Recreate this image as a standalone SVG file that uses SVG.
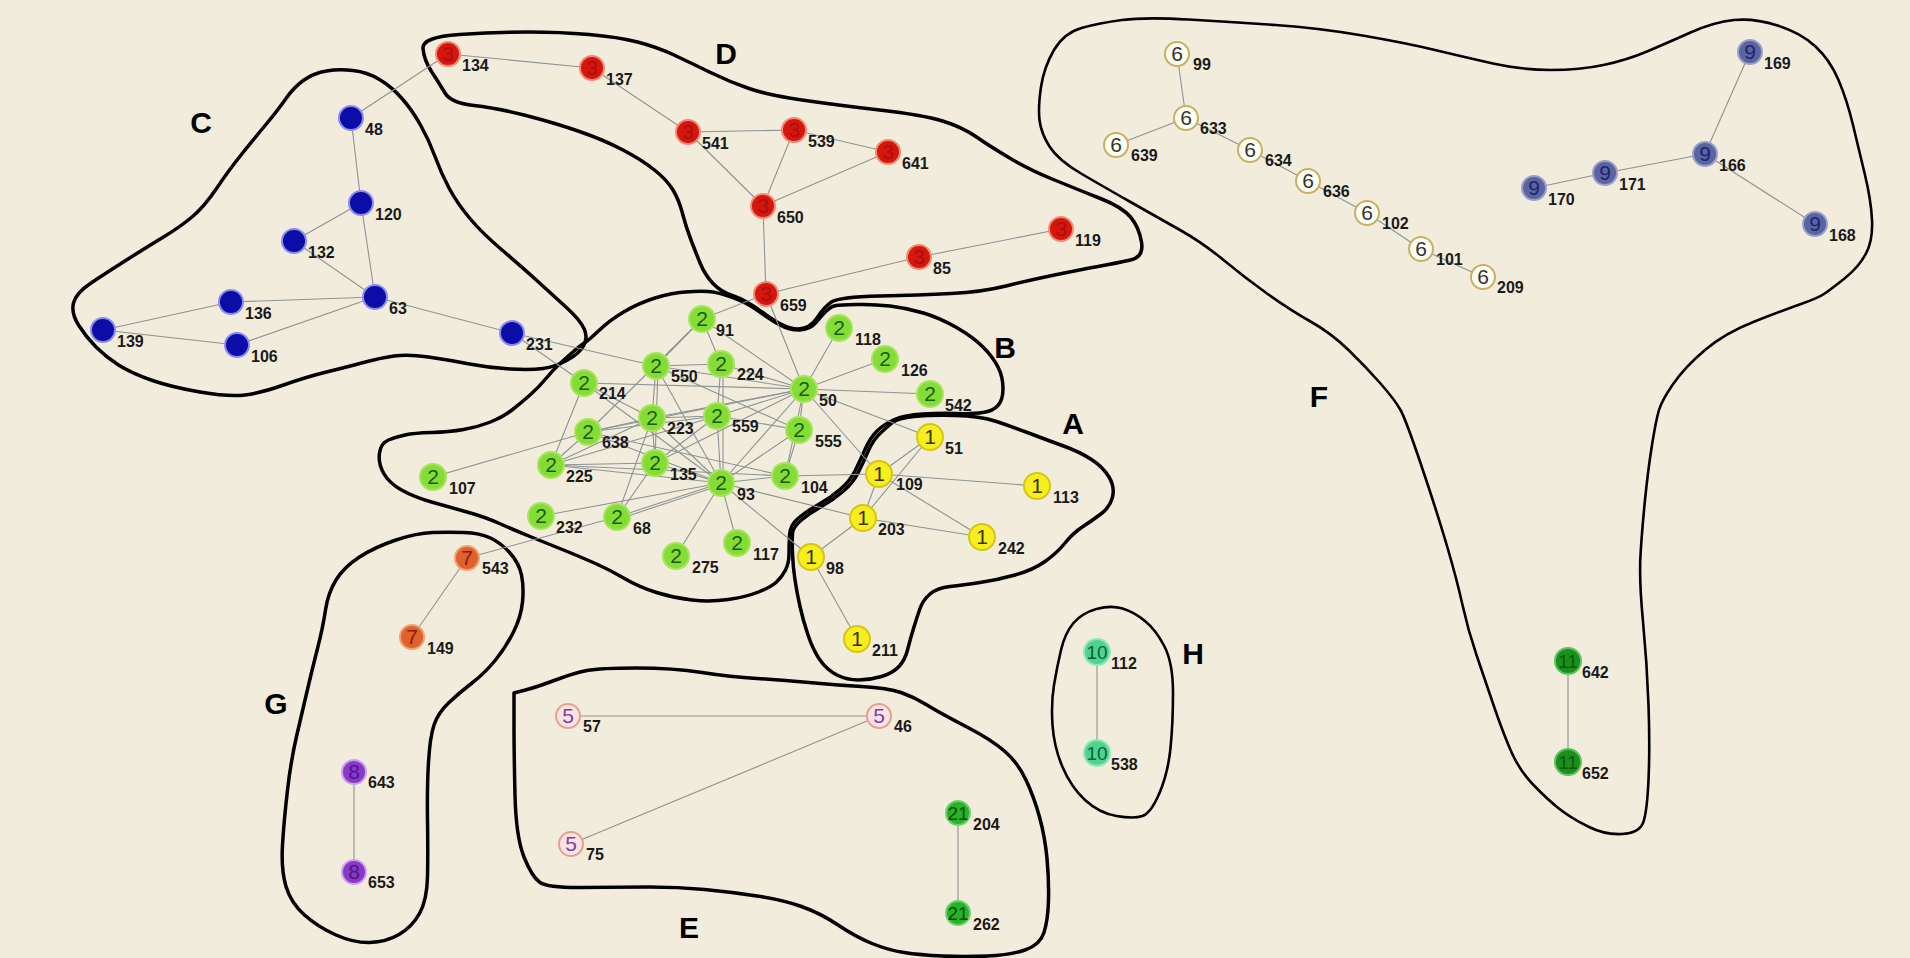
<svg xmlns="http://www.w3.org/2000/svg" width="1910" height="958" viewBox="0 0 1910 958">
<style>
.bg{fill:#f2ecdd}
.hull{fill:none;stroke:#000;stroke-width:3.5;stroke-linejoin:round}
.hull.thin{stroke-width:2.6}
.e line{stroke:#8c9494;stroke-width:1.1}
circle{stroke-width:2}
.d{font-family:"Liberation Sans",Arial,sans-serif;font-size:21px;text-anchor:middle}
.lb{font-family:"Liberation Sans",Arial,sans-serif;font-size:16px;font-weight:bold;fill:#1a1a1a}
.let{font-family:"Liberation Sans",Arial,sans-serif;font-size:30px;font-weight:bold;fill:#000;text-anchor:middle}
.c1 circle{fill:#f6ee1e;stroke:#d6c612}.c1 .d{fill:#3a3000}
.c2 circle{fill:#84dd34;stroke:#a8e45c}.c2 .d{fill:#1c5a12}
.c3 circle{fill:#d6150d;stroke:#f08a72}.c3 .d{fill:#a81010}
.c4 circle{fill:#0c0ca6;stroke:#8a8af0}
.c5 circle{fill:#fbe4e6;stroke:#e6a08c}.c5 .d{fill:#8040a0}
.c6 circle{fill:#fffef4;stroke:#c8b060}.c6 .d{fill:#333}
.c7 circle{fill:#e0622a;stroke:#f0a272}.c7 .d{fill:#8a1a10}
.c8 circle{fill:#8a38c8;stroke:#c8a0ee}.c8 .d{fill:#4a1a8a}
.c9 circle{fill:#5a64a0;stroke:#9aa0c8}.c9 .d{fill:#1c2470}
.c10 circle{fill:#4fd48e;stroke:#90e8b8}.c10 .d{fill:#0a6040;font-size:19px}
.c11 circle{fill:#1a901a;stroke:#60c060}.c11 .d{fill:#0c5c0c;font-size:19px}
.c21 circle{fill:#26b426;stroke:#70d070}.c21 .d{fill:#0a4a0a;font-size:19px}
</style>
<rect class="bg" x="0" y="0" width="1910" height="958"/>

<g id="hulls">
<path id="hullC" class="hull" d="M326.5,71 Q339,69 353,70.5 Q367,72 379.5,79.5 Q392,87 402,98.5 Q412,110 420.5,125 Q429,140 435,156.5 Q441,173 449,188 Q457,203 469.5,218 Q482,233 502,250 Q522,267 538.5,282 Q555,297 567.5,308.5 Q580,320 584,328.5 Q588,337 584,345 Q580,353 567.5,360 Q555,367 543,368.5 Q531,370 510.5,369 Q490,368 469.5,364 Q449,360 428.5,357 Q408,354 394,356 Q380,358 363.5,362.5 Q347,367 326.5,372 Q306,377 283.5,385 Q261,393 245,395 Q229,397 200,392 Q171,387 151,380 Q131,373 118.5,365 Q106,357 96,347 Q86,337 78.5,325 Q71,313 73.5,303 Q76,293 91,283 Q106,273 126.5,260 Q147,247 163.5,237 Q180,227 192,217 Q204,207 216.5,188.5 Q229,170 241,155 Q253,140 265.5,125 Q278,110 286,98.5 Q294,87 304,80 Q314,73 326.5,71 Z"/>
<path id="hullD" class="hull" d="M423,48.5 Q422,37 459.5,34.5 Q497,32 528.5,32 Q560,32 589,34.5 Q618,37 637.5,42 Q657,47 674,55 Q691,63 710.5,72.5 Q730,82 749,88.5 Q768,95 802,100 Q836,105 879.5,110 Q923,115 942.5,121 Q962,127 976.5,137 Q991,147 1010.5,158.5 Q1030,170 1054.5,180 Q1079,190 1100.5,198.5 Q1122,207 1130.5,217 Q1139,227 1141.5,242 Q1144,257 1130.5,260 Q1117,263 1098,266.5 Q1079,270 1054.5,275 Q1030,280 1006,286 Q982,292 951,293.5 Q920,295 879.5,296 Q839,297 831.5,302 Q824,307 817,318 Q810,329 797.5,329 Q785,329 765.5,314.5 Q746,300 733.5,296 Q721,292 713,283.5 Q705,275 700.5,264 Q696,253 691,240 Q686,227 682.5,213.5 Q679,200 673,190 Q667,180 654.5,170 Q642,160 623,150 Q604,140 579.5,131.5 Q555,123 526,115.5 Q497,108 474,105.5 Q451,103 445,93 Q439,83 431.5,71.5 Q424,60 423,48.5 Z"/>
<path id="hullB" class="hull" d="M585,342.5 Q589,340 599.5,330 Q610,320 624.5,311.5 Q639,303 655,298 Q671,293 685,292 Q699,291 708,291.5 Q717,292 731.5,297 Q746,302 758.5,311 Q771,320 780,325 Q789,330 799.5,330 Q810,330 816.5,322 Q823,314 827.5,310 Q832,306 836,305.5 Q840,305 856.5,304.5 Q873,304 890,306 Q907,308 923.5,313 Q940,318 956.5,327.5 Q973,337 983,347 Q993,357 998,367 Q1003,377 1003,388.5 Q1003,400 998,405.5 Q993,411 983,412.5 Q973,414 956.5,413.5 Q940,413 922.5,414 Q905,415 894.5,419.5 Q884,424 877,431 Q870,438 865,449.5 Q860,461 855,471 Q850,481 840,489.5 Q830,498 818.5,504.5 Q807,511 798.5,518 Q790,525 789.5,535 Q789,545 789,554 Q789,563 785.5,570 Q782,577 776.5,582 Q771,587 758.5,592 Q746,597 728,599.5 Q710,602 692,600 Q674,598 656.5,592.5 Q639,587 624.5,578.5 Q610,570 595.5,563.5 Q581,557 563.5,550 Q546,543 530,536.5 Q514,530 499.5,523.5 Q485,517 467,512 Q449,507 431.5,502 Q414,497 401.5,490 Q389,483 383.5,473 Q378,463 379.5,453 Q381,443 388.5,440 Q396,437 405,435 Q414,433 431.5,432.5 Q449,432 463.5,429.5 Q478,427 490.5,422 Q503,417 512,410 Q521,403 530,395 Q539,387 546,378.5 Q553,370 560,363.5 Q567,357 574,351 Q581,345 585,342.5 Z"/>
<path id="hullA" class="hull" d="M892.5,422.5 Q898,418 914,416.5 Q930,415 955,415.5 Q980,416 996.5,421.5 Q1013,427 1030,433.5 Q1047,440 1063.5,446 Q1080,452 1091.5,459.5 Q1103,467 1109,477 Q1115,487 1112.5,497 Q1110,507 1101.5,513.5 Q1093,520 1083,526.5 Q1073,533 1065,543 Q1057,553 1045,561.5 Q1033,570 1015,575 Q997,580 980,582.5 Q963,585 950,586.5 Q937,588 930,594 Q923,600 920,608.5 Q917,617 913.5,628.5 Q910,640 907.5,650 Q905,660 899,666.5 Q893,673 881.5,676.5 Q870,680 858.5,680 Q847,680 837,675 Q827,670 820,660 Q813,650 808,635 Q803,620 800,606.5 Q797,593 795,580 Q793,567 792.5,553.5 Q792,540 792.5,533.5 Q793,527 801.5,520 Q810,513 821.5,506.5 Q833,500 843,491.5 Q853,483 858,473 Q863,463 868,451.5 Q873,440 880,433.5 Q887,427 892.5,422.5 Z"/>
<path id="hullG" class="hull" d="M432.5,532.5 Q448,532 464,532.5 Q480,533 490.5,538 Q501,543 510,553 Q519,563 521.5,575 Q524,587 522.5,602 Q521,617 513.5,632 Q506,647 495.5,660 Q485,673 472,683 Q459,693 448.5,703 Q438,713 434,725 Q430,737 428.5,762 Q427,787 427.5,820 Q428,853 427.5,876.5 Q427,900 419.5,913.5 Q412,927 399,934.5 Q386,942 370,942.5 Q354,943 336,935 Q318,927 304.5,915 Q291,903 286,886.5 Q281,870 282.5,845 Q284,820 287.5,790 Q291,760 296.5,736.5 Q302,713 307,691.5 Q312,670 317.5,648.5 Q323,627 325.5,610 Q328,593 336,580 Q344,567 359.5,557 Q375,547 396,540 Q417,533 432.5,532.5 Z"/>
<path id="hullE" class="hull" d="M514,693 L525.5,690 Q537,687 555.5,680 Q574,673 587,670.5 Q600,668 636.5,668 Q673,668 702,672.5 Q731,677 757,678.5 Q783,680 809,682.5 Q835,685 861.5,686.5 Q888,688 901,692.5 Q914,697 927,705 Q940,713 966,726.5 Q992,740 1005,751.5 Q1018,763 1026,780 Q1034,797 1039.5,817 Q1045,837 1047,858.5 Q1049,880 1048.5,900 Q1048,920 1044,932.5 Q1040,945 1025,950 Q1010,955 987.5,956 Q965,957 942.5,956 Q920,955 904,952.5 Q888,950 872,943.5 Q856,937 838,925 Q820,913 801.5,906.5 Q783,900 757,896 Q731,892 704.5,889.5 Q678,887 649.5,887 Q621,887 584.5,887.5 Q548,888 540,882.5 Q532,877 524,857 Q516,837 515,795 Q514,753 514,723 Z"/>
<path id="hullH" class="hull thin" d="M1096.5,609 Q1111,605 1122.5,608.5 Q1134,612 1145,621 Q1156,630 1164.5,646.5 Q1173,663 1173,693 Q1173,723 1170.5,748 Q1168,773 1159.5,793 Q1151,813 1142.5,816 Q1134,819 1116.5,816 Q1099,813 1085,800 Q1071,787 1062.5,767 Q1054,747 1052.5,725 Q1051,703 1054,685 Q1057,667 1061,650 Q1065,633 1073.5,623 Q1082,613 1096.5,609 Z"/>
<path id="hullF" class="hull thin" d="M1054,50 Q1064,33 1081.5,28 Q1099,23 1122,20 Q1145,17 1188.5,19.5 Q1232,22 1275.5,25 Q1319,28 1362.5,35.5 Q1406,43 1435,50 Q1464,57 1493,63.5 Q1522,70 1551,70 Q1580,70 1603.5,65 Q1627,60 1647,51.5 Q1667,43 1690.5,32.5 Q1714,22 1734,20 Q1754,18 1777.5,25.5 Q1801,33 1815.5,46.5 Q1830,60 1838.5,80 Q1847,100 1853,125 Q1859,150 1865,175 Q1871,200 1872,220 Q1873,240 1866,253.5 Q1859,267 1844.5,278.5 Q1830,290 1824,294 Q1818,298 1801,304 Q1784,310 1754.5,321.5 Q1725,333 1705,350 Q1685,367 1673.5,383.5 Q1662,400 1659,410 Q1656,420 1652,445 Q1648,470 1645,500 Q1642,530 1640.5,555 Q1639,580 1643,621.5 Q1647,663 1648.5,705 Q1650,747 1648.5,780 Q1647,813 1643,823 Q1639,833 1622,834 Q1605,835 1588,826.5 Q1571,818 1559.5,809 Q1548,800 1533.5,785 Q1519,770 1510.5,750 Q1502,730 1493.5,705 Q1485,680 1476.5,655 Q1468,630 1462.5,605 Q1457,580 1447,546 Q1437,512 1421.5,466 Q1406,420 1400.5,410 Q1395,400 1380.5,383.5 Q1366,367 1348.5,350 Q1331,333 1310.5,321.5 Q1290,310 1267,293.5 Q1244,277 1223.5,260 Q1203,243 1180,230 Q1157,217 1130.5,202 Q1104,187 1081,173.5 Q1058,160 1049.5,146.5 Q1041,133 1039.5,120 Q1038,107 1041,87 Q1044,67 1054,50 Z"/>
</g>

<g id="connectors" class="e">
<line x1="351" y1="118" x2="448" y2="54"/>
<line x1="351" y1="118" x2="361" y2="203"/>
<line x1="361" y1="203" x2="294" y2="241"/>
<line x1="361" y1="203" x2="375" y2="297"/>
<line x1="294" y1="241" x2="375" y2="297"/>
<line x1="375" y1="297" x2="231" y2="302"/>
<line x1="375" y1="297" x2="237" y2="345"/>
<line x1="375" y1="297" x2="512" y2="333"/>
<line x1="231" y1="302" x2="103" y2="330"/>
<line x1="103" y1="330" x2="237" y2="345"/>
<line x1="512" y1="333" x2="656" y2="366"/>
<line x1="512" y1="333" x2="584" y2="383"/>
<line x1="448" y1="54" x2="592" y2="68"/>
<line x1="592" y1="68" x2="688" y2="132"/>
<line x1="688" y1="132" x2="794" y2="130"/>
<line x1="688" y1="132" x2="763" y2="206"/>
<line x1="794" y1="130" x2="763" y2="206"/>
<line x1="794" y1="130" x2="888" y2="152"/>
<line x1="888" y1="152" x2="763" y2="206"/>
<line x1="763" y1="206" x2="766" y2="294"/>
<line x1="766" y1="294" x2="919" y2="257"/>
<line x1="919" y1="257" x2="1061" y2="229"/>
<line x1="766" y1="294" x2="702" y2="319"/>
<line x1="766" y1="294" x2="804" y2="389"/>
<line x1="702" y1="319" x2="656" y2="366"/>
<line x1="702" y1="319" x2="721" y2="364"/>
<line x1="702" y1="319" x2="804" y2="389"/>
<line x1="702" y1="319" x2="588" y2="432"/>
<line x1="656" y1="366" x2="721" y2="364"/>
<line x1="656" y1="366" x2="804" y2="389"/>
<line x1="656" y1="366" x2="652" y2="418"/>
<line x1="658" y1="366" x2="655" y2="463"/>
<line x1="656" y1="366" x2="721" y2="483"/>
<line x1="656" y1="366" x2="799" y2="430"/>
<line x1="721" y1="364" x2="804" y2="389"/>
<line x1="721" y1="364" x2="717" y2="416"/>
<line x1="723" y1="364" x2="723" y2="483"/>
<line x1="584" y1="383" x2="804" y2="389"/>
<line x1="584" y1="383" x2="652" y2="418"/>
<line x1="584" y1="383" x2="721" y2="483"/>
<line x1="584" y1="383" x2="551" y2="465"/>
<line x1="652" y1="418" x2="717" y2="416"/>
<line x1="652" y1="418" x2="804" y2="389"/>
<line x1="652" y1="418" x2="655" y2="463"/>
<line x1="652" y1="418" x2="551" y2="465"/>
<line x1="652" y1="418" x2="588" y2="432"/>
<line x1="652" y1="418" x2="721" y2="483"/>
<line x1="652" y1="418" x2="617" y2="517"/>
<line x1="717" y1="416" x2="804" y2="389"/>
<line x1="717" y1="416" x2="799" y2="430"/>
<line x1="717" y1="416" x2="721" y2="483"/>
<line x1="717" y1="416" x2="588" y2="432"/>
<line x1="717" y1="416" x2="655" y2="463"/>
<line x1="717" y1="416" x2="551" y2="465"/>
<line x1="588" y1="432" x2="804" y2="389"/>
<line x1="588" y1="432" x2="721" y2="483"/>
<line x1="588" y1="432" x2="433" y2="477"/>
<line x1="588" y1="432" x2="551" y2="465"/>
<line x1="588" y1="432" x2="785" y2="476"/>
<line x1="551" y1="465" x2="655" y2="463"/>
<line x1="551" y1="465" x2="721" y2="483"/>
<line x1="551" y1="465" x2="785" y2="476"/>
<line x1="655" y1="463" x2="721" y2="483"/>
<line x1="655" y1="463" x2="804" y2="389"/>
<line x1="655" y1="463" x2="617" y2="517"/>
<line x1="804" y1="389" x2="799" y2="430"/>
<line x1="804" y1="389" x2="839" y2="328"/>
<line x1="804" y1="389" x2="885" y2="359"/>
<line x1="804" y1="389" x2="930" y2="394"/>
<line x1="804" y1="389" x2="930" y2="437"/>
<line x1="804" y1="389" x2="879" y2="474"/>
<line x1="804" y1="389" x2="721" y2="483"/>
<line x1="804" y1="389" x2="785" y2="476"/>
<line x1="799" y1="430" x2="721" y2="483"/>
<line x1="799" y1="430" x2="785" y2="476"/>
<line x1="721" y1="483" x2="785" y2="476"/>
<line x1="721" y1="483" x2="541" y2="516"/>
<line x1="721" y1="483" x2="617" y2="517"/>
<line x1="721" y1="485" x2="619" y2="519"/>
<line x1="721" y1="483" x2="737" y2="543"/>
<line x1="721" y1="483" x2="676" y2="556"/>
<line x1="721" y1="483" x2="811" y2="557"/>
<line x1="721" y1="483" x2="863" y2="518"/>
<line x1="617" y1="517" x2="467" y2="558"/>
<line x1="785" y1="476" x2="879" y2="474"/>
<line x1="930" y1="437" x2="879" y2="474"/>
<line x1="930" y1="437" x2="863" y2="518"/>
<line x1="879" y1="474" x2="863" y2="518"/>
<line x1="879" y1="474" x2="1037" y2="486"/>
<line x1="879" y1="474" x2="982" y2="537"/>
<line x1="863" y1="518" x2="982" y2="537"/>
<line x1="863" y1="518" x2="811" y2="557"/>
<line x1="811" y1="557" x2="857" y2="639"/>
<line x1="467" y1="558" x2="412" y2="637"/>
<line x1="354" y1="772" x2="354" y2="872"/>
<line x1="568" y1="716" x2="879" y2="716"/>
<line x1="879" y1="716" x2="571" y2="844"/>
<line x1="958" y1="813" x2="958" y2="913"/>
<line x1="1097" y1="652" x2="1097" y2="753"/>
<line x1="1568" y1="661" x2="1568" y2="762"/>
<line x1="1177" y1="54" x2="1186" y2="118"/>
<line x1="1186" y1="118" x2="1116" y2="145"/>
<line x1="1186" y1="118" x2="1250" y2="150"/>
<line x1="1250" y1="150" x2="1308" y2="181"/>
<line x1="1308" y1="181" x2="1367" y2="213"/>
<line x1="1367" y1="213" x2="1421" y2="249"/>
<line x1="1421" y1="249" x2="1483" y2="277"/>
<line x1="1750" y1="52" x2="1705" y2="154"/>
<line x1="1705" y1="154" x2="1605" y2="173"/>
<line x1="1605" y1="173" x2="1534" y2="188"/>
<line x1="1705" y1="154" x2="1815" y2="224"/>
</g>

<g id="letters">
<text class="let" x="201" y="133">C</text>
<text class="let" x="726" y="64">D</text>
<text class="let" x="1005" y="358">B</text>
<text class="let" x="1073" y="434">A</text>
<text class="let" x="1319" y="407">F</text>
<text class="let" x="276" y="714">G</text>
<text class="let" x="1193" y="664">H</text>
<text class="let" x="689" y="938">E</text>
</g>

<g id="n134" class="c3"><circle cx="448" cy="54" r="12"/><text class="d" x="448" y="61">3</text><text class="lb" x="462" y="71">134</text></g>
<g id="n137" class="c3"><circle cx="592" cy="68" r="12"/><text class="d" x="592" y="75">3</text><text class="lb" x="606" y="85">137</text></g>
<g id="n541" class="c3"><circle cx="688" cy="132" r="12"/><text class="d" x="688" y="139">3</text><text class="lb" x="702" y="149">541</text></g>
<g id="n539" class="c3"><circle cx="794" cy="130" r="12"/><text class="d" x="794" y="137">3</text><text class="lb" x="808" y="147">539</text></g>
<g id="n641" class="c3"><circle cx="888" cy="152" r="12"/><text class="d" x="888" y="159">3</text><text class="lb" x="902" y="169">641</text></g>
<g id="n650" class="c3"><circle cx="763" cy="206" r="12"/><text class="d" x="763" y="213">3</text><text class="lb" x="777" y="223">650</text></g>
<g id="n85" class="c3"><circle cx="919" cy="257" r="12"/><text class="d" x="919" y="264">3</text><text class="lb" x="933" y="274">85</text></g>
<g id="n119" class="c3"><circle cx="1061" cy="229" r="12"/><text class="d" x="1061" y="236">3</text><text class="lb" x="1075" y="246">119</text></g>
<g id="n659" class="c3"><circle cx="766" cy="294" r="12"/><text class="d" x="766" y="301">3</text><text class="lb" x="780" y="311">659</text></g>

<g id="n48" class="c4"><circle cx="351" cy="118" r="12"/><text class="lb" x="365" y="135">48</text></g>
<g id="n120" class="c4"><circle cx="361" cy="203" r="12"/><text class="lb" x="375" y="220">120</text></g>
<g id="n132" class="c4"><circle cx="294" cy="241" r="12"/><text class="lb" x="308" y="258">132</text></g>
<g id="n63" class="c4"><circle cx="375" cy="297" r="12"/><text class="lb" x="389" y="314">63</text></g>
<g id="n136" class="c4"><circle cx="231" cy="302" r="12"/><text class="lb" x="245" y="319">136</text></g>
<g id="n139" class="c4"><circle cx="103" cy="330" r="12"/><text class="lb" x="117" y="347">139</text></g>
<g id="n106" class="c4"><circle cx="237" cy="345" r="12"/><text class="lb" x="251" y="362">106</text></g>
<g id="n231" class="c4"><circle cx="512" cy="333" r="12"/><text class="lb" x="526" y="350">231</text></g>

<g id="n91" class="c2"><circle cx="702" cy="319" r="13"/><text class="d" x="702" y="326">2</text><text class="lb" x="716" y="336">91</text></g>
<g id="n118" class="c2"><circle cx="839" cy="328" r="13"/><text class="d" x="839" y="335">2</text><text class="lb" x="855" y="345">118</text></g>
<g id="n126" class="c2"><circle cx="885" cy="359" r="13"/><text class="d" x="885" y="366">2</text><text class="lb" x="901" y="376">126</text></g>
<g id="n550" class="c2"><circle cx="656" cy="366" r="13"/><text class="d" x="656" y="373">2</text><text class="lb" x="671" y="382">550</text></g>
<g id="n224" class="c2"><circle cx="721" cy="364" r="13"/><text class="d" x="721" y="371">2</text><text class="lb" x="737" y="380">224</text></g>
<g id="n214" class="c2"><circle cx="584" cy="383" r="13"/><text class="d" x="584" y="390">2</text><text class="lb" x="599" y="399">214</text></g>
<g id="n50" class="c2"><circle cx="804" cy="389" r="13"/><text class="d" x="804" y="396">2</text><text class="lb" x="819" y="406">50</text></g>
<g id="n542" class="c2"><circle cx="930" cy="394" r="13"/><text class="d" x="930" y="401">2</text><text class="lb" x="945" y="411">542</text></g>
<g id="n223" class="c2"><circle cx="652" cy="418" r="13"/><text class="d" x="652" y="425">2</text><text class="lb" x="667" y="434">223</text></g>
<g id="n559" class="c2"><circle cx="717" cy="416" r="13"/><text class="d" x="717" y="423">2</text><text class="lb" x="732" y="432">559</text></g>
<g id="n638" class="c2"><circle cx="588" cy="432" r="13"/><text class="d" x="588" y="439">2</text><text class="lb" x="602" y="448">638</text></g>
<g id="n555" class="c2"><circle cx="799" cy="430" r="13"/><text class="d" x="799" y="437">2</text><text class="lb" x="815" y="447">555</text></g>
<g id="n225" class="c2"><circle cx="551" cy="465" r="13"/><text class="d" x="551" y="472">2</text><text class="lb" x="566" y="482">225</text></g>
<g id="n135" class="c2"><circle cx="655" cy="463" r="13"/><text class="d" x="655" y="470">2</text><text class="lb" x="670" y="480">135</text></g>
<g id="n107" class="c2"><circle cx="433" cy="477" r="13"/><text class="d" x="433" y="484">2</text><text class="lb" x="449" y="494">107</text></g>
<g id="n93" class="c2"><circle cx="721" cy="483" r="13"/><text class="d" x="721" y="490">2</text><text class="lb" x="737" y="500">93</text></g>
<g id="n104" class="c2"><circle cx="785" cy="476" r="13"/><text class="d" x="785" y="483">2</text><text class="lb" x="801" y="493">104</text></g>
<g id="n232" class="c2"><circle cx="541" cy="516" r="13"/><text class="d" x="541" y="523">2</text><text class="lb" x="556" y="533">232</text></g>
<g id="n68" class="c2"><circle cx="617" cy="517" r="13"/><text class="d" x="617" y="524">2</text><text class="lb" x="633" y="534">68</text></g>
<g id="n117" class="c2"><circle cx="737" cy="543" r="13"/><text class="d" x="737" y="550">2</text><text class="lb" x="753" y="560">117</text></g>
<g id="n275" class="c2"><circle cx="676" cy="556" r="13"/><text class="d" x="676" y="563">2</text><text class="lb" x="692" y="573">275</text></g>

<g id="n51" class="c1"><circle cx="930" cy="437" r="13"/><text class="d" x="930" y="444">1</text><text class="lb" x="945" y="454">51</text></g>
<g id="n109" class="c1"><circle cx="879" cy="474" r="13"/><text class="d" x="879" y="481">1</text><text class="lb" x="896" y="490">109</text></g>
<g id="n113" class="c1"><circle cx="1037" cy="486" r="13"/><text class="d" x="1037" y="493">1</text><text class="lb" x="1053" y="503">113</text></g>
<g id="n203" class="c1"><circle cx="863" cy="518" r="13"/><text class="d" x="863" y="525">1</text><text class="lb" x="878" y="535">203</text></g>
<g id="n242" class="c1"><circle cx="982" cy="537" r="13"/><text class="d" x="982" y="544">1</text><text class="lb" x="998" y="554">242</text></g>
<g id="n98" class="c1"><circle cx="811" cy="557" r="13"/><text class="d" x="811" y="564">1</text><text class="lb" x="826" y="574">98</text></g>
<g id="n211" class="c1"><circle cx="857" cy="639" r="13"/><text class="d" x="857" y="646">1</text><text class="lb" x="872" y="656">211</text></g>

<g id="n543" class="c7"><circle cx="467" cy="558" r="12"/><text class="d" x="467" y="565">7</text><text class="lb" x="482" y="574">543</text></g>
<g id="n149" class="c7"><circle cx="412" cy="637" r="12"/><text class="d" x="412" y="644">7</text><text class="lb" x="427" y="654">149</text></g>
<g id="n643" class="c8"><circle cx="354" cy="772" r="12"/><text class="d" x="354" y="779">8</text><text class="lb" x="368" y="788">643</text></g>
<g id="n653" class="c8"><circle cx="354" cy="872" r="12"/><text class="d" x="354" y="879">8</text><text class="lb" x="368" y="888">653</text></g>

<g id="n57" class="c5"><circle cx="568" cy="716" r="12"/><text class="d" x="568" y="723">5</text><text class="lb" x="583" y="732">57</text></g>
<g id="n46" class="c5"><circle cx="879" cy="716" r="12"/><text class="d" x="879" y="723">5</text><text class="lb" x="894" y="732">46</text></g>
<g id="n75" class="c5"><circle cx="571" cy="844" r="12"/><text class="d" x="571" y="851">5</text><text class="lb" x="586" y="860">75</text></g>
<g id="n204" class="c21"><circle cx="958" cy="813" r="12"/><text class="d" x="958" y="820">21</text><text class="lb" x="973" y="830">204</text></g>
<g id="n262" class="c21"><circle cx="958" cy="913" r="12"/><text class="d" x="958" y="920">21</text><text class="lb" x="973" y="930">262</text></g>

<g id="n112" class="c10"><circle cx="1097" cy="652" r="13"/><text class="d" x="1097" y="659">10</text><text class="lb" x="1111" y="669">112</text></g>
<g id="n538" class="c10"><circle cx="1097" cy="753" r="13"/><text class="d" x="1097" y="760">10</text><text class="lb" x="1111" y="770">538</text></g>
<g id="n642" class="c11"><circle cx="1568" cy="661" r="13"/><text class="d" x="1568" y="668">11</text><text class="lb" x="1582" y="678">642</text></g>
<g id="n652" class="c11"><circle cx="1568" cy="762" r="13"/><text class="d" x="1568" y="769">11</text><text class="lb" x="1582" y="779">652</text></g>

<g id="n99" class="c6"><circle cx="1177" cy="54" r="12"/><text class="d" x="1177" y="61">6</text><text class="lb" x="1193" y="70">99</text></g>
<g id="n633" class="c6"><circle cx="1186" cy="118" r="12"/><text class="d" x="1186" y="125">6</text><text class="lb" x="1200" y="134">633</text></g>
<g id="n639" class="c6"><circle cx="1116" cy="145" r="12"/><text class="d" x="1116" y="152">6</text><text class="lb" x="1131" y="161">639</text></g>
<g id="n634" class="c6"><circle cx="1250" cy="150" r="12"/><text class="d" x="1250" y="157">6</text><text class="lb" x="1265" y="166">634</text></g>
<g id="n636" class="c6"><circle cx="1308" cy="181" r="12"/><text class="d" x="1308" y="188">6</text><text class="lb" x="1323" y="197">636</text></g>
<g id="n102" class="c6"><circle cx="1367" cy="213" r="12"/><text class="d" x="1367" y="220">6</text><text class="lb" x="1382" y="229">102</text></g>
<g id="n101" class="c6"><circle cx="1421" cy="249" r="12"/><text class="d" x="1421" y="256">6</text><text class="lb" x="1436" y="265">101</text></g>
<g id="n209" class="c6"><circle cx="1483" cy="277" r="12"/><text class="d" x="1483" y="284">6</text><text class="lb" x="1497" y="293">209</text></g>

<g id="n169" class="c9"><circle cx="1750" cy="52" r="12"/><text class="d" x="1750" y="59">9</text><text class="lb" x="1764" y="69">169</text></g>
<g id="n166" class="c9"><circle cx="1705" cy="154" r="12"/><text class="d" x="1705" y="161">9</text><text class="lb" x="1719" y="171">166</text></g>
<g id="n171" class="c9"><circle cx="1605" cy="173" r="12"/><text class="d" x="1605" y="180">9</text><text class="lb" x="1619" y="190">171</text></g>
<g id="n170" class="c9"><circle cx="1534" cy="188" r="12"/><text class="d" x="1534" y="195">9</text><text class="lb" x="1548" y="205">170</text></g>
<g id="n168" class="c9"><circle cx="1815" cy="224" r="12"/><text class="d" x="1815" y="231">9</text><text class="lb" x="1829" y="241">168</text></g>
</svg>
